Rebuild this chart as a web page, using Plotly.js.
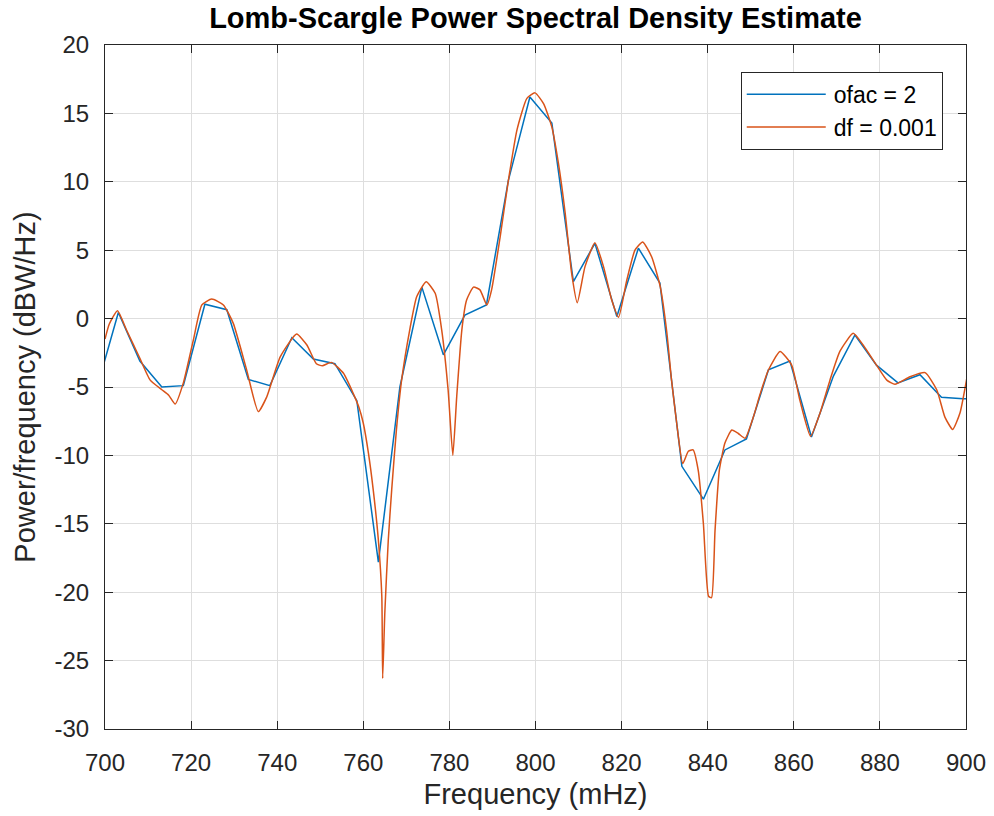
<!DOCTYPE html>
<html>
<head>
<meta charset="utf-8">
<script src="https://cdn.plot.ly/plotly-3.0.1.min.js"></script>
<style>html,body{margin:0;padding:0;background:#fff;}#chart{width:994px;height:816px;}</style>
</head>
<body>
<div id="chart"></div>
<script>
// ofac = 2 series (coarse frequency grid, mHz / dBW/Hz)
const ofacFreq = [698.1,703.1,708.1,713.2,718.2,723.2,728.3,733.3,738.3,743.4,748.4,753.4,758.5,763.5,768.5,773.6,778.6,783.6,788.6,793.7,798.7,803.8,808.8,813.8,818.9,823.9,828.9,834.0,839.0,844.0,849.0,854.1,859.1,864.1,869.2,874.2,879.2,884.2,889.3,894.3,899.3,904.3];
const ofacPower = [-5.1,0.45,-3.1,-5.0,-4.9,1.05,0.65,-4.45,-4.9,-1.4,-2.95,-3.3,-6.0,-17.8,-5.0,2.3,-2.65,0.25,1.0,10.1,16.2,14.3,2.7,5.5,0.15,5.15,2.6,-10.8,-13.2,-9.6,-8.8,-3.75,-3.1,-8.65,-4.2,-1.2,-3.4,-4.7,-4.1,-5.75,-5.85,-5.9];

// df = 0.001 series (fine frequency grid)
const dfFreq = [700.0,701.0,702.9,705.0,706.6,708.1,710.5,713.2,714.8,716.3,718.2,720.5,722.5,724.8,727.5,729.8,732.9,735.6,737.6,740.7,744.5,746.9,749.1,750.5,752.6,755.4,757.7,759.0,760.0,761.2,762.3,763.5,764.3,764.5,765.0,765.8,766.6,767.7,768.9,770.8,772.4,774.6,776.7,778.2,779.7,780.8,781.7,782.9,784.0,785.6,787.1,788.7,789.8,791.8,793.7,795.7,798.0,799.9,801.9,803.8,805.3,806.9,808.4,809.7,811.5,813.8,815.8,817.7,819.3,821.2,823.1,824.9,827.0,829.0,830.5,831.6,832.8,834.2,835.5,836.6,837.8,839.0,840.2,840.9,841.7,842.7,844.0,845.6,847.1,848.7,850.6,852.2,854.1,856.8,859.5,861.4,863.9,866.1,868.4,870.7,873.8,876.1,879.2,881.6,883.5,887.0,890.5,893.2,895.1,896.9,898.6,900.5];
const dfPower = [-1.5,-0.4,0.58,-0.83,-1.9,-2.9,-4.5,-5.2,-5.6,-6.25,-4.7,-1.6,1.0,1.43,1.0,-0.35,-3.75,-6.8,-5.7,-2.8,-1.13,-1.93,-3.3,-3.45,-3.2,-4.0,-5.5,-6.5,-7.65,-9.85,-12.5,-16.2,-20.3,-26.3,-21.5,-16.2,-12.5,-8.1,-4.5,-0.8,1.6,2.7,1.85,-0.8,-5.2,-10.0,-5.7,-0.8,1.36,2.3,2.1,1.0,2.1,6.0,10.1,13.8,16.1,16.5,15.7,14.0,11.4,7.7,3.3,1.16,3.8,5.55,3.8,1.36,0.1,2.8,5.0,5.6,4.5,2.3,-1.0,-4.5,-7.65,-10.6,-9.7,-9.6,-11.1,-15.0,-20.3,-20.4,-15.5,-11.1,-9.1,-8.15,-8.4,-8.75,-7.2,-5.5,-3.76,-2.4,-3.4,-5.95,-8.6,-6.9,-4.5,-2.4,-1.08,-1.93,-3.4,-4.5,-4.8,-4.25,-3.95,-5.2,-7.2,-8.1,-6.9,-3.8];

const xTicks = [700,720,740,760,780,800,820,840,860,880,900];
const yTicks = [-30,-25,-20,-15,-10,-5,0,5,10,15,20];

const fontFam = 'Liberation Sans, Arial, Helvetica, sans-serif';
const axisCol = '#262626';

const traces = [
  {x: ofacFreq, y: ofacPower, type: 'scatter', mode: 'lines', name: 'ofac = 2',
   line: {color: '#0072BD', width: 1.5}},
  {x: dfFreq, y: dfPower, type: 'scatter', mode: 'lines', name: 'df = 0.001',
   line: {color: '#D95319', width: 1.5, shape: 'spline', smoothing: 0.5}}
];

const axisCommon = {
  showline: true, linecolor: axisCol, linewidth: 1, mirror: 'ticks',
  ticks: 'inside', ticklen: 8, tickcolor: axisCol, tickwidth: 1,
  showgrid: true, gridcolor: '#dedede', gridwidth: 1, zeroline: false,
  tickfont: {family: fontFam, size: 24, color: axisCol}
};

const layout = {
  width: 994, height: 816,
  margin: {l: 105, r: 28, t: 45, b: 87, pad: 0},
  paper_bgcolor: '#ffffff', plot_bgcolor: '#ffffff',
  font: {family: fontFam, color: axisCol},
  title: {text: '<b>Lomb-Scargle Power Spectral Density Estimate</b>',
          font: {family: fontFam, size: 29, color: '#000000'},
          xref: 'paper', x: 0.5, xanchor: 'center', yref: 'container', y: 0.978, yanchor: 'middle'},
  xaxis: Object.assign({}, axisCommon, {
    range: [700, 900], tickvals: xTicks, ticktext: xTicks.map(String),
    ticklabelstandoff: 12,
    title: {text: 'Frequency (mHz)', font: {family: fontFam, size: 29, color: axisCol}, standoff: 8}
  }),
  yaxis: Object.assign({}, axisCommon, {
    range: [-30, 20], tickvals: yTicks, ticktext: yTicks.map(String),
    ticklabelstandoff: 10,
    title: {text: 'Power/frequency (dBW/Hz)', font: {family: fontFam, size: 29, color: axisCol}, standoff: 10}
  }),
  showlegend: true,
  legend: {x: 0.973, xanchor: 'right', y: 0.961, yanchor: 'top',
           bgcolor: '#ffffff', bordercolor: axisCol, borderwidth: 1,
           font: {family: fontFam, size: 23, color: '#000000'},
           itemwidth: 82}
};

Plotly.newPlot('chart', traces, layout, {displayModeBar: false, staticPlot: true}).then(function (gd) {
  // lengthen the legend line samples to match the reference legend
  gd.querySelectorAll('.legend .legendlines path').forEach(function (p) {
    p.setAttribute('d', 'M5,0h79');
  });
});
</script>
</body>
</html>
